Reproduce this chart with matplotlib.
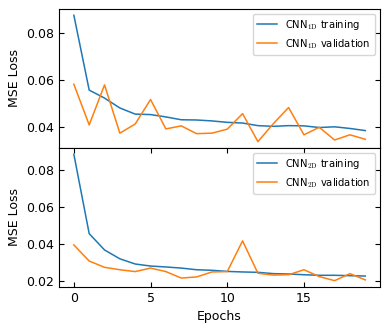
import numpy as np
import matplotlib
matplotlib.use('Agg')
import matplotlib.pyplot as plt

plt.rcParams['mathtext.fontset'] = 'cm'

epochs = np.arange(20)

# CNN 1D
train_1d = [0.0876, 0.0558, 0.0524, 0.0482, 0.0456, 0.0454, 0.0444, 0.0432, 0.0431, 0.0427,
            0.0421, 0.0418, 0.0407, 0.0404, 0.0407, 0.0406, 0.0399, 0.0402, 0.0395, 0.0386]
val_1d = [0.0583, 0.0410, 0.0580, 0.0375, 0.0414, 0.0518, 0.0393, 0.0406, 0.0373, 0.0375,
          0.0392, 0.0458, 0.0339, 0.0415, 0.0484, 0.0368, 0.0400, 0.0346, 0.0368, 0.0349]

# CNN 2D
train_2d = [0.0883, 0.0454, 0.0366, 0.0318, 0.0290, 0.0279, 0.0274, 0.0268, 0.0259, 0.0256,
            0.0250, 0.0247, 0.0245, 0.0238, 0.0236, 0.0232, 0.0229, 0.0229, 0.0227, 0.0225]
val_2d = [0.0393, 0.0306, 0.0272, 0.0259, 0.0249, 0.0268, 0.0249, 0.0214, 0.0220, 0.0247,
          0.0249, 0.0415, 0.0240, 0.0230, 0.0232, 0.0259, 0.0222, 0.0200, 0.0238, 0.0204]

fig, (ax1, ax2) = plt.subplots(2, 1, figsize=(3.9, 3.31), dpi=100, sharex=True)
fig.subplots_adjust(left=0.152, right=0.974, top=0.973, bottom=0.133, hspace=0)

ax1.plot(epochs, train_1d, color='#1f77b4', linewidth=1.1, label=r'CNN$_{\rm 1D}$ training')
ax1.plot(epochs, val_1d, color='#ff7f0e', linewidth=1.1, label=r'CNN$_{\rm 1D}$ validation')
ax2.plot(epochs, train_2d, color='#1f77b4', linewidth=1.1, label=r'CNN$_{\rm 2D}$ training')
ax2.plot(epochs, val_2d, color='#ff7f0e', linewidth=1.1, label=r'CNN$_{\rm 2D}$ validation')

ax1.set_yticks([0.04, 0.06, 0.08])
ax2.set_yticks([0.02, 0.04, 0.06, 0.08])
ax2.set_xticks([0, 5, 10, 15])

for ax in (ax1, ax2):
    ax.set_ylabel('MSE Loss', fontsize=9)
    ax.legend(loc='upper right', fontsize=7.2)
    ax.tick_params(direction='in', right=True, labelsize=9)

ax1.tick_params(axis='x', bottom=False, top=False, labelbottom=False)
ax2.tick_params(axis='x', top=True)
ax2.set_xlabel('Epochs', fontsize=9)

plt.savefig('out.png', dpi=100)
plt.close()
